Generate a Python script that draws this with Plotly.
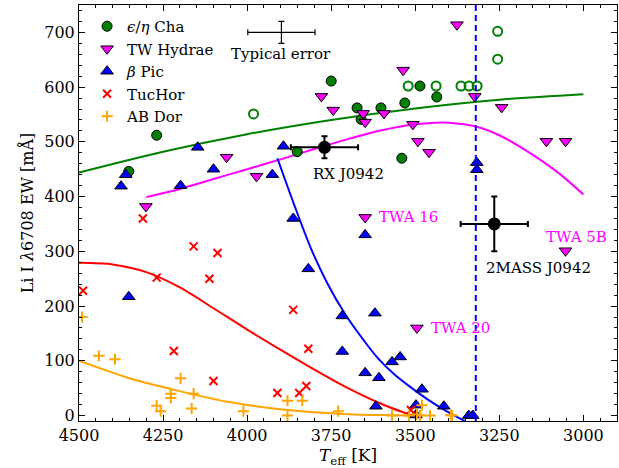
import plotly.graph_objects as go

# ---------------- data ----------------
cha_T = [4269, 4352, 3750, 3673, 3661, 3602, 3531, 3486, 3436, 3540, 3851]
cha_EW = [512, 446, 611, 562, 541, 562, 571, 602, 582, 470, 482]

cha_open_T = [3981, 3521, 3438, 3364, 3340, 3316, 3255, 3255]
cha_open_EW = [551, 602, 602, 602, 602, 602, 702, 651]

twh_T = [4301, 4061, 3972, 3376, 3536, 3779, 3744, 3655, 3649, 3593, 3507, 3492,
         3459, 3323, 3243, 3110, 3053, 3649, 3495, 3053]
twh_EW = [382, 472, 437, 714, 631, 583, 558, 552, 536, 552, 532, 501,
          481, 583, 563, 501, 501, 362, 160, 301]

bpic_T = [4375, 4361, 4198, 4147, 4100, 3925, 3892, 3317, 3317, 4352, 3863, 3649,
          3818, 3717, 3620, 3717, 3569, 3545, 3649, 3608, 3480, 3617, 3498, 3415,
          3498, 3341, 3329]
bpic_EW = [419, 440, 420, 490, 450, 440, 492, 462, 449, 217, 360, 330,
           268, 182, 187, 117, 98, 107, 78, 69, 48, 17, 19, 17,
           1, 0, 0]

tuc_T = [4310, 4159, 4088, 4269, 4112, 4488, 4218, 4100, 3863, 3818, 3910, 3845, 3824, 3513]
tuc_EW = [360, 309, 297, 252, 250, 228, 118, 63, 193, 122, 41, 41, 54, 10]

abd_T = [4491, 4441, 4393, 4198, 4227, 4227, 4159, 4269, 4257, 4165, 4011, 3880,
         3836, 3880, 3729, 3569, 3519, 3495, 3486, 3480, 3456, 3394, 3391]
abd_EW = [180, 109, 103, 68, 40, 32, 40, 18, 8, 13, 8, 27,
          27, 0, 8, 0, 0, 2, 0, 19, 0, 1, 0]

# model curves
green_T = [4500, 4250, 4000, 3750, 3500, 3250, 3000]
green_EW = [444, 482, 514, 540, 561, 577, 587]

mag_T = [4300, 4200, 4100, 4000, 3900, 3800, 3700, 3600, 3500, 3440, 3400, 3320, 3250, 3170, 3080, 3000]
mag_EW = [399, 414, 432, 450, 468, 487, 505, 521, 532, 535, 535, 528, 512, 484, 446, 404]

blue_T = [3910, 3860, 3810, 3760, 3710, 3660, 3610, 3560, 3510, 3460, 3410, 3350]
blue_EW = [470, 385, 305, 240, 187, 143, 104, 74, 50, 28, 9, -11]

red_T = [4500, 4400, 4300, 4200, 4100, 4000, 3900, 3800, 3700, 3600, 3510]
red_EW = [279, 276, 262, 234, 196, 157, 120, 84, 50, 21, 0]

orange_T = [4500, 4355, 4204, 4058, 3910, 3800, 3700, 3600, 3520]
orange_EW = [100, 69, 45, 25, 12, 6, 2.5, 0.8, 0]

# objects with error bars
obj_T = [3770, 3265]
obj_EW = [490, 350]
obj_Terr = [100, 100]
obj_EWerr = [20, 50]

typ_T = [3898]
typ_EW = [700]
typ_Terr = [100]
typ_EWerr = [20]

vline_T = 3320

# text labels
lab_text = ["TWA 16", "TWA 20", "TWA 5B", "RX J0942", "2MASS J0942", "Typical error"]
lab_T = [3614, 3459, 3118, 3700, 3133, 3898]
lab_EW = [362, 160, 327, 441, 270, 661]
lab_color = ["magenta", "magenta", "magenta", "black", "black", "black"]
lab_anchor = ["left", "left", "left", "center", "center", "center"]

FONT = "DejaVu Serif"

fig = go.Figure()

# curves
for tx, ty, col in [(green_T, green_EW, "green"), (mag_T, mag_EW, "magenta"),
                    (blue_T, blue_EW, "blue"), (red_T, red_EW, "red"),
                    (orange_T, orange_EW, "orange")]:
    fig.add_trace(go.Scatter(x=tx, y=ty, mode="lines",
                             line=dict(color=col, width=2, shape="spline", smoothing=0.8),
                             showlegend=False, hoverinfo="skip"))

fig.add_vline(x=vline_T, line=dict(color="blue", width=2, dash="6px,4px"))

fig.add_trace(go.Scatter(x=cha_open_T, y=cha_open_EW, mode="markers",
                         marker=dict(symbol="circle-open", size=9, color="green", line=dict(width=2)),
                         showlegend=False))

fig.add_trace(go.Scatter(x=cha_T, y=cha_EW, mode="markers", name="<i>ϵ</i>/<i>η</i> Cha", legendgroup="a",
                         marker=dict(symbol="circle", size=10, color="green", line=dict(color="black", width=1))))
fig.add_trace(go.Scatter(x=twh_T, y=twh_EW, mode="markers", name="TW Hydrae", legendgroup="b",
                         marker=dict(symbol="triangle-down", size=11, color="magenta", line=dict(color="black", width=1))))
fig.add_trace(go.Scatter(x=bpic_T, y=bpic_EW, mode="markers", name="<i>β</i> Pic", legendgroup="c",
                         marker=dict(symbol="triangle-up", size=11, color="blue", line=dict(color="black", width=1))))
fig.add_trace(go.Scatter(x=tuc_T, y=tuc_EW, mode="markers", name="TucHor", legendgroup="d",
                         marker=dict(symbol="x-thin-open", size=8, color="red", line=dict(color="red", width=2))))
fig.add_trace(go.Scatter(x=abd_T, y=abd_EW, mode="markers", name="AB Dor", legendgroup="e",
                         marker=dict(symbol="cross-thin-open", size=8, color="orange", line=dict(color="orange", width=2))))

fig.add_trace(go.Scatter(x=obj_T, y=obj_EW, mode="markers", showlegend=False,
                         marker=dict(symbol="circle", size=13, color="black"),
                         error_x=dict(type="data", array=obj_Terr, color="black", thickness=2, width=3),
                         error_y=dict(type="data", array=obj_EWerr, color="black", thickness=2, width=3)))
fig.add_trace(go.Scatter(x=typ_T, y=typ_EW, mode="markers", showlegend=False,
                         marker=dict(symbol="circle", size=1, color="rgba(0,0,0,0)"),
                         error_x=dict(type="data", array=typ_Terr, color="black", thickness=1.2, width=3),
                         error_y=dict(type="data", array=typ_EWerr, color="black", thickness=1.2, width=3)))

for t, x, y, c, a in zip(lab_text, lab_T, lab_EW, lab_color, lab_anchor):
    fig.add_annotation(x=x, y=y, text=t, showarrow=False, xanchor=a, yanchor="middle",
                       font=dict(family=FONT, size=15, color=c))

axis_common = dict(showline=True, linecolor="black", linewidth=1, mirror="ticks",
                   ticks="inside", ticklen=6, tickwidth=1, tickcolor="black",
                   showgrid=False, zeroline=False, automargin=False,
                   tickfont=dict(family=FONT, size=16, color="black"),
                   minor=dict(ticks="inside", ticklen=3, tickwidth=1, tickcolor="black"))

fig.update_xaxes(range=[4500, 2900], tickvals=[4500, 4250, 4000, 3750, 3500, 3250, 3000],
                 minor_dtick=50,
                 title=dict(text="<i>T</i><sub>eff</sub> [K]", font=dict(family=FONT, size=17, color="black"), standoff=2),
                 **axis_common)
fig.update_yaxes(range=[-10, 750], dtick=100, minor_dtick=20,
                 title=dict(text="Li I <i>λ</i>6708 EW [mÅ]", font=dict(family=FONT, size=16, color="black"), standoff=6),
                 **axis_common)

fig.update_layout(width=619, height=468, margin=dict(l=79, r=2, t=5, b=47),
                  plot_bgcolor="white", paper_bgcolor="white",
                  legend=dict(x=0.015, y=0.988, xanchor="left", yanchor="top", bgcolor="rgba(0,0,0,0)",
                              font=dict(family=FONT, size=15, color="black"), tracegroupgap=0),
                  font=dict(family=FONT))

fig.write_html("out.html", config={"displayModeBar": False},
               post_script="document.body.style.margin='0';document.body.style.padding='0';")
